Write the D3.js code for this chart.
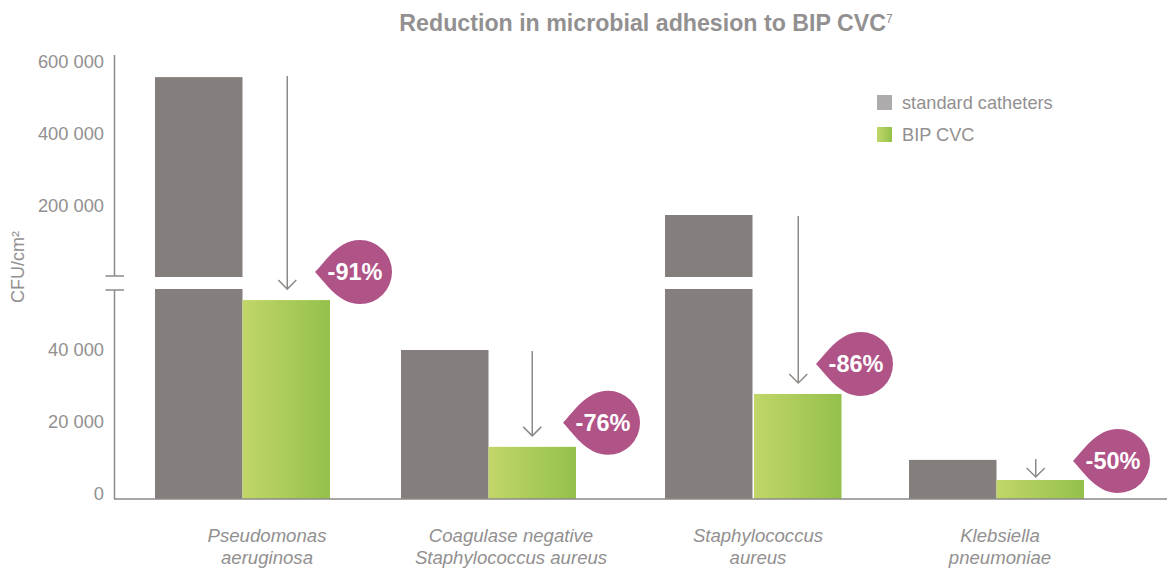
<!DOCTYPE html>
<html>
<head>
<meta charset="utf-8">
<script src="https://cdn.jsdelivr.net/npm/d3@7"></script>
<style>
  body { margin: 0; background: #fff; }
  text { font-family: "Liberation Sans", Arial, sans-serif; }
</style>
</head>
<body>
<div id="chart"></div>
<script>
var width = 1167;
var height = 568;

// values
let categories = ['Pseudomonas', 'Coagulase', 'Staphylococcus', 'Klebsiella'];
let categoryLines = [
    ['Pseudomonas', 'aeruginosa'],
    ['Coagulase negative', 'Staphylococcus aureus'],
    ['Staphylococcus', 'aureus'],
    ['Klebsiella', 'pneumoniae']
];
let standard = [558000, 40000, 175000, 10500];
let bip = [53400, 14000, 28200, 5100];
let reductions = ['-91%', '-76%', '-86%', '-50%'];
let tickLabels = ['0', '20 000', '40 000', '200 000', '400 000', '600 000'];
let legendLabels = ['standard catheters', 'BIP CVC'];

let barWidth = 87.5;
let grey = '#847f7d';
let axisGrey = '#8d8a88';
let textGrey = '#929090';
let pink = '#b05387';

// groups are not evenly spaced in the original
let groupX = d3.scaleOrdinal().domain(categories).range([155, 401, 665, 909]);
let bipX = d3.scaleOrdinal().domain(categories).range([242.5, 488.5, 754, 996.5]);
let labelX = d3.scaleOrdinal().domain(categories).range([267, 511, 758, 1000]);
let arrowShift = d3.scaleOrdinal().domain(categories).range([1, 0, 0.5, -4.5]);
let arrowStart = d3.scaleOrdinal().domain(categories).range([-1, 1, 1, -1]);
let arrowGap = d3.scaleOrdinal().domain(categories).range([11, 11, 11, 3]);
let bubbleX = d3.scaleOrdinal().domain(categories).range([360, 608, 861, 1118]);
let bubbleLift = d3.scaleOrdinal().domain(categories).range([28, 24, 30, 19]);

// broken axis: two linear pieces
let yLow = d3.scaleLinear().domain([0, 40000]).range([499, 350]);
let yHigh = d3.scaleLinear().domain([200000, 400000]).range([206, 134]);
let breakLow = yLow.invert(289);
let breakHigh = yHigh.invert(277);
let y = (v) => v > breakLow ? yHigh(v) : yLow(v);

// labels sit evenly spaced, with one empty slot where the axis is cut
let yLabels = d3.scalePoint()
    .domain(['0', '20 000', '40 000', 'cut', '200 000', '400 000', '600 000'])
    .range([494, 62]);

let svg = d3.select('#chart')
    .append('svg')
    .attr('width', width)
    .attr('height', height)
    .style('display', 'block');

let defs = svg.append('defs');
let grad = defs.append('linearGradient').attr('id', 'green');
grad.append('stop').attr('offset', '0%').attr('stop-color', '#c1d668');
grad.append('stop').attr('offset', '100%').attr('stop-color', '#94c04c');

// title
let title = svg.append('text')
    .attr('x', 646)
    .attr('y', 31)
    .attr('text-anchor', 'middle')
    .attr('font-size', 23.2)
    .attr('font-weight', 'bold')
    .attr('fill', textGrey)
    .text('Reduction in microbial adhesion to BIP CVC');
title.append('tspan')
    .attr('font-size', 12)
    .attr('dy', -8)
    .attr('font-weight', 'normal')
    .text('7');

// y axis labels
let axis = d3.axisLeft(yLabels).tickValues(tickLabels).tickSize(0).tickPadding(0);
let axisG = svg.append('g')
    .attr('transform', 'translate(104,0)')
    .call(axis);
axisG.select('.domain').remove();
axisG.selectAll('text')
    .attr('font-size', 18.3)
    .style('font-family', '"Liberation Sans", Arial, sans-serif')
    .attr('fill', textGrey);

svg.append('text')
    .attr('transform', 'translate(24,267) rotate(-90)')
    .attr('text-anchor', 'middle')
    .attr('font-size', 18)
    .attr('fill', textGrey)
    .text('CFU/cm\u00b2');

// standard bars, the tall ones are split in two parts by the axis cut
let lowerPart = svg.append('g').selectAll('rect')
    .data(categories)
    .enter()
    .append('rect')
    .attr('x', d => groupX(d))
    .attr('width', barWidth)
    .attr('y', (d, i) => yLow(Math.min(standard[i], breakLow)))
    .attr('height', (d, i) => yLow(0) - yLow(Math.min(standard[i], breakLow)))
    .attr('fill', grey);

let tall = categories.filter((d, i) => standard[i] > breakLow);
let upperPart = svg.append('g').selectAll('rect')
    .data(tall)
    .enter()
    .append('rect')
    .attr('x', d => groupX(d))
    .attr('width', barWidth)
    .attr('y', d => yHigh(standard[categories.indexOf(d)]))
    .attr('height', d => yHigh(breakHigh) - yHigh(standard[categories.indexOf(d)]))
    .attr('fill', grey);

svg.append('g').selectAll('rect')
    .data(categories)
    .enter()
    .append('rect')
    .attr('x', d => bipX(d))
    .attr('width', barWidth)
    .attr('y', (d, i) => y(bip[i]))
    .attr('height', (d, i) => y(0) - y(bip[i]))
    .attr('fill', 'url(#green)');

// axis lines
let lines = svg.append('g').attr('stroke', axisGrey).attr('stroke-width', 1.5).attr('fill', 'none');
lines.append('path').attr('d', 'M114.5,55V276M105.5,276H124M105.5,290H124M114.5,290V499');
lines.append('path').attr('d', 'M114,499H1167');

// arrows
let arrows = svg.append('g')
    .attr('stroke', axisGrey)
    .attr('stroke-width', 1.5)
    .attr('fill', 'none');
arrows.selectAll('path')
    .data(categories)
    .enter()
    .append('path')
    .attr('d', (d, i) => {
        let x = bipX(d) + barWidth / 2 + arrowShift(d);
        let top = y(standard[i]) + arrowStart(d);
        let end = y(bip[i]) - arrowGap(d);
        return `M${x},${top}V${end}M${x - 9},${end - 9}L${x},${end}L${x + 9},${end - 9}`;
    });

// drop shaped badges
let r = 32;
let tip = 45;
let badge = svg.append('g').selectAll('g')
    .data(categories)
    .enter()
    .append('g')
    .attr('transform', (d, i) => `translate(${bubbleX(d)},${y(bip[i]) - bubbleLift(d)})`);
badge.append('path')
    .attr('d', `M${-tip},0C${-tip + 10},${-10} ${-22},${-r} 0,${-r}A${r},${r} 0 1 1 0,${r}C${-22},${r} ${-tip + 10},${10} ${-tip},0Z`)
    .attr('fill', pink);
badge.append('text')
    .attr('x', -5)
    .attr('y', 8)
    .attr('text-anchor', 'middle')
    .attr('font-size', 23.5)
    .attr('font-weight', 'bold')
    .attr('fill', '#fff')
    .text((d, i) => reductions[i]);

// category labels
let catLabels = svg.append('g').selectAll('text')
    .data(categories)
    .enter()
    .append('text')
    .attr('text-anchor', 'middle')
    .attr('font-size', 18.6)
    .attr('font-style', 'italic')
    .attr('fill', textGrey);
catLabels.selectAll('tspan')
    .data((d, i) => categoryLines[i].map(t => [d, t]))
    .enter()
    .append('tspan')
    .attr('x', d => labelX(d[0]))
    .attr('y', (d, i) => 542 + i * 22)
    .text(d => d[1]);

// legend
let legend = svg.append('g').selectAll('g')
    .data(legendLabels)
    .enter()
    .append('g')
    .attr('transform', (d, i) => `translate(877,${95 + i * 32})`);
legend.append('rect')
    .attr('width', 15)
    .attr('height', 15)
    .attr('fill', (d, i) => i == 0 ? '#aeabac' : 'url(#green)');
legend.append('text')
    .attr('x', 25)
    .attr('y', 14)
    .attr('font-size', 18.2)
    .attr('fill', textGrey)
    .text(d => d);
</script>
</body>
</html>
